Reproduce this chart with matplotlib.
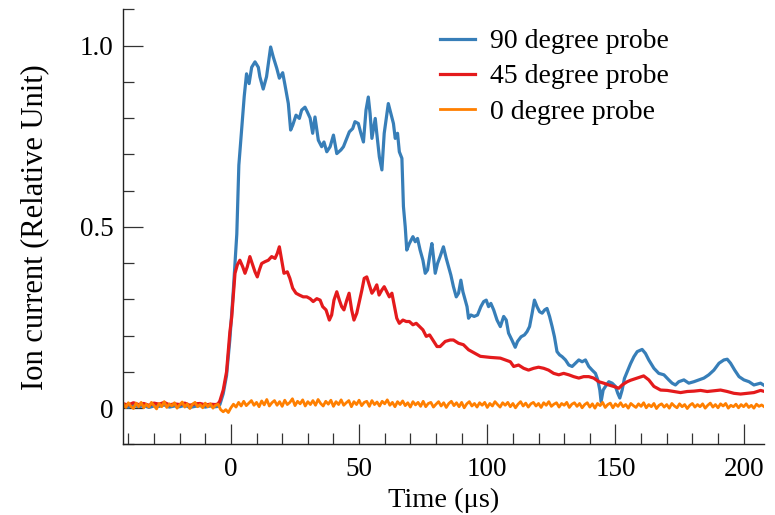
import numpy as np
import matplotlib.pyplot as plt
from matplotlib.ticker import MultipleLocator

# 90 degree probe (time in us, relative ion current)
t90 = [-42, -40, -38, -36, -34, -32, -30, -28, -26, -24, -22, -20, -18, -16, -14, -12, -10, -8, -6,
       -5, -4.3, -3, -1.7, -0.4, 0.9, 1.6, 2.3, 3.1, 4.2, 5.2, 6.1, 7.1, 8.1, 9.4, 10.7, 11.3,
       12.6, 13.9, 15.5, 16.5, 17.9, 18.9, 20.2, 21.1, 22.4, 23.3, 24.1, 25.4, 26.7, 27.6, 28.9,
       29.8, 30.9, 31.9, 32.8, 34.1, 35.4, 36.3, 37.4, 38.7, 40.0, 41.3, 42.9, 43.9, 44.9, 46.2,
       47.5, 48.4, 49.7, 50.7, 51.7, 52.7, 53.6, 54.3, 55.0, 56.3, 56.9, 57.9, 58.9, 59.8, 60.5,
       61.4, 62.4, 63.4, 64.1, 65.0, 65.7, 66.7, 67.3, 68.0, 68.6, 69.6, 71.0, 71.9, 72.8, 73.8,
       74.9, 75.8, 76.7, 77.7, 78.4, 79.0, 79.7, 80.6, 81.6, 82.9, 84.0, 84.9, 85.8, 86.8, 87.9,
       88.8, 89.7, 90.5, 91.4, 92.1, 92.7, 93.6, 94.9, 96.2, 97.5, 98.6, 99.6, 100.5, 101.4,
       102.5, 103.8, 105.1, 106.4, 107.4, 108.3, 109.6, 110.9, 111.8, 113.2, 114.5, 115.5, 116.5,
       117.5, 118.4, 119.4, 120.4, 121.4, 122.4, 123.3, 124.3, 125.3, 126.2, 127.2, 128.2, 129.2,
       130.5, 131.8, 133.1, 134.4, 135.7, 137.0, 138.3, 139.6, 140.9, 142.2, 143.1, 143.9, 144.4,
       145.2, 146.1, 147.4, 148.7, 150.0, 150.9, 151.7, 152.6, 153.5, 154.6, 155.9, 157.2, 158.5,
       160.4, 161.7, 163.0, 165.0, 166.9, 168.9, 170.8, 172.1, 173.4, 174.7, 176.7, 178.6, 180.6,
       182.5, 184.5, 186.4, 188.4, 190.4, 192.3, 193.6, 194.9, 196.5, 198.2, 200.1, 202.1, 204.0,
       206.6, 208.2]
v90 = [0.006, 0.003, 0.008, 0.004, 0.007, 0.002, 0.006, 0.005, 0.009, 0.003, 0.006, 0.004, 0.008,
       0.002, 0.005, 0.007, 0.003, 0.006, 0.004,
       0.005, 0.010, 0.040, 0.090, 0.190, 0.320, 0.400, 0.480, 0.670, 0.770, 0.860, 0.922, 0.895,
       0.940, 0.955, 0.940, 0.914, 0.880, 0.914, 0.996, 0.969, 0.937, 0.910, 0.925, 0.891, 0.840,
       0.767, 0.780, 0.808, 0.799, 0.822, 0.830, 0.817, 0.800, 0.758, 0.803, 0.739, 0.721, 0.734,
       0.707, 0.721, 0.753, 0.702, 0.712, 0.721, 0.739, 0.762, 0.771, 0.790, 0.785, 0.758, 0.734,
       0.822, 0.858, 0.812, 0.744, 0.799, 0.758, 0.693, 0.657, 0.758, 0.794, 0.840, 0.813, 0.785,
       0.744, 0.758, 0.707, 0.689, 0.556, 0.500, 0.436, 0.454, 0.473, 0.459, 0.468, 0.436, 0.408,
       0.372, 0.381, 0.427, 0.454, 0.418, 0.372, 0.399, 0.418, 0.445, 0.413, 0.390, 0.367, 0.335,
       0.307, 0.317, 0.353, 0.321, 0.298, 0.280, 0.248, 0.257, 0.253, 0.257, 0.280, 0.294, 0.298,
       0.280, 0.289, 0.271, 0.243, 0.225, 0.253, 0.243, 0.207, 0.188, 0.168, 0.184, 0.197, 0.202,
       0.211, 0.225, 0.262, 0.298, 0.280, 0.266, 0.262, 0.271, 0.275, 0.253, 0.225, 0.197, 0.156,
       0.147, 0.142, 0.133, 0.119, 0.115, 0.124, 0.133, 0.128, 0.133, 0.115, 0.105, 0.096, 0.078,
       0.050, 0.018, 0.050, 0.060, 0.073, 0.069, 0.060, 0.041, 0.028, 0.050, 0.082, 0.101, 0.123,
       0.142, 0.156, 0.162, 0.151, 0.133, 0.110, 0.096, 0.092, 0.078, 0.069, 0.064, 0.073, 0.078,
       0.069, 0.073, 0.078, 0.083, 0.092, 0.105, 0.124, 0.133, 0.135, 0.124, 0.105, 0.087, 0.078,
       0.073, 0.064, 0.069, 0.062]

# 45 degree probe
t45 = [-42, -40, -38, -36, -34, -32, -30, -28, -26, -24, -22, -20, -18, -16, -14, -12, -10, -8, -6,
       -5, -4.3, -3.0, -1.7, -0.4, 0.3, 0.9, 1.6, 2.5, 3.5, 4.6, 5.5, 6.4, 7.4, 8.5, 9.4, 10.3,
       11.1, 12.0, 13.3, 14.6, 15.9, 17.2, 18.1, 18.9, 19.8, 20.7, 22.0, 23.0, 24.1, 25.4, 26.7,
       28.2, 29.6, 30.9, 32.1, 33.5, 34.8, 35.8, 37.1, 38.4, 39.3, 40.2, 41.3, 42.3, 43.2, 44.1,
       45.2, 46.1, 47.1, 48.0, 49.1, 50.1, 51.1, 52.0, 53.0, 54.0, 55.0, 55.9, 56.9, 57.8, 58.9,
       59.8, 60.8, 61.8, 62.8, 63.7, 64.7, 65.7, 67.1, 68.4, 69.6, 71.0, 72.3, 73.6, 74.9, 76.2,
       77.5, 80.4, 81.6, 83.6, 85.5, 86.8, 88.8, 90.7, 92.7, 97.3, 101.2, 105.1, 109.0, 110.3,
       112.2, 114.2, 116.1, 118.1, 120.0, 122.0, 123.9, 125.9, 127.9, 129.8, 131.8, 133.7, 135.7,
       137.6, 139.6, 141.5, 143.5, 145.4, 147.4, 149.3, 151.3, 152.6, 154.6, 155.9, 158.5, 161.0,
       163.0, 165.0, 167.6, 170.2, 172.8, 175.4, 178.0, 180.6, 183.2, 185.8, 188.4, 191.0, 193.6,
       196.2, 198.8, 201.4, 204.0, 206.6, 208.2]
v45 = [0.012, 0.009, 0.015, 0.010, 0.013, 0.008, 0.014, 0.011, 0.016, 0.009, 0.012, 0.010, 0.014,
       0.008, 0.012, 0.013, 0.009, 0.011, 0.010,
       0.012, 0.020, 0.050, 0.100, 0.210, 0.250, 0.307, 0.372, 0.395, 0.408, 0.390, 0.372, 0.390,
       0.418, 0.395, 0.376, 0.362, 0.381, 0.399, 0.404, 0.408, 0.418, 0.413, 0.427, 0.445, 0.408,
       0.372, 0.376, 0.358, 0.331, 0.317, 0.312, 0.307, 0.307, 0.302, 0.294, 0.302, 0.298, 0.280,
       0.271, 0.243, 0.257, 0.298, 0.321, 0.298, 0.280, 0.271, 0.298, 0.317, 0.271, 0.243, 0.262,
       0.294, 0.326, 0.358, 0.362, 0.340, 0.317, 0.326, 0.340, 0.312, 0.326, 0.335, 0.321, 0.307,
       0.317, 0.285, 0.248, 0.234, 0.243, 0.239, 0.239, 0.230, 0.234, 0.225, 0.216, 0.198, 0.202,
       0.170, 0.170, 0.184, 0.188, 0.188, 0.179, 0.175, 0.161, 0.143, 0.140, 0.138, 0.128, 0.115,
       0.119, 0.110, 0.105, 0.110, 0.113, 0.110, 0.105, 0.096, 0.092, 0.096, 0.092, 0.087, 0.083,
       0.087, 0.087, 0.083, 0.073, 0.069, 0.064, 0.060, 0.055, 0.064, 0.073, 0.077, 0.083, 0.089,
       0.078, 0.060, 0.050, 0.049, 0.046, 0.043, 0.046, 0.047, 0.049, 0.046, 0.048, 0.050, 0.046,
       0.041, 0.039, 0.041, 0.043, 0.049, 0.046]

# 0 degree probe, sampled every 1 us from -42 to 208
t0 = np.arange(-42, 209)
v0 = [0.013, 0.002, 0.015, 0.005, -0.001, 0.014, 0.004, 0.016, 0.001, 0.011,
      0.003, 0.016, 0.007, -0.002, 0.013, 0.004, 0.018, 0.002, 0.012, 0.006,
      0.015, 0.000, 0.009, 0.017, 0.003, 0.012, -0.001, 0.011, 0.016, 0.004,
      0.010, 0.001, 0.014, 0.004, 0.012, 0.000, 0.008, 0.011, -0.004, -0.010,
      -0.004, -0.012, 0.001, 0.011, 0.003, 0.016, 0.006, 0.019, 0.007, 0.014,
      0.021, 0.008, 0.016, 0.004, 0.020, 0.009, 0.024, 0.006, 0.015, 0.021,
      0.008, 0.018, 0.005, 0.022, 0.010, 0.016, 0.026, 0.007, 0.019, 0.012,
      0.023, 0.006, 0.018, 0.010, 0.021, 0.008, 0.024, 0.013, 0.006, 0.019,
      0.011, 0.022, 0.005, 0.018, 0.010, 0.023, 0.008, 0.015, 0.021, 0.004,
      0.018, 0.010, 0.022, 0.007, 0.016, 0.019, 0.005, 0.021, 0.010, 0.017,
      0.006, 0.019, 0.012, 0.023, 0.008, 0.016, 0.004, 0.018, 0.010, 0.020,
      0.007, 0.015, 0.003, 0.018, 0.009, 0.016, 0.005, 0.019, 0.004, 0.013,
      0.016, 0.003, 0.011, 0.018, 0.006, 0.015, 0.002, 0.013, 0.019, 0.007,
      0.015, 0.004, 0.016, 0.001, 0.012, 0.018, 0.006, 0.013, 0.003, 0.015,
      0.008, 0.016, 0.002, 0.013, 0.006, 0.018, 0.010, 0.003, 0.015, 0.008,
      0.016, 0.004, 0.013, 0.001, 0.011, 0.018, 0.006, 0.014, 0.003, 0.012,
      0.016, 0.006, 0.013, 0.002, 0.015, 0.008, 0.018, 0.005, 0.011, 0.015,
      0.003, 0.013, 0.008, 0.016, 0.002, 0.011, 0.015, 0.005, 0.013, 0.001,
      0.010, 0.015, 0.003, 0.012, 0.000, 0.013, 0.007, 0.016, 0.002, 0.010,
      0.014, 0.001, 0.012, 0.005, 0.015, 0.004, 0.010, 0.000, 0.013, 0.007,
      0.002, 0.012, 0.005, 0.015, 0.001, 0.010, 0.004, 0.013, -0.001, 0.008,
      0.012, 0.003, 0.010, 0.000, 0.013, 0.006, 0.001, 0.012, 0.004, 0.010,
      -0.001, 0.008, 0.013, 0.003, 0.010, 0.004, 0.012, 0.000, 0.008, 0.014,
      0.003, 0.010, 0.001, 0.012, 0.006, 0.013, 0.000, 0.008, 0.004, 0.011,
      0.001, 0.010, 0.004, 0.012, 0.002, 0.008, 0.000, 0.011, 0.005, 0.009,
      0.004]

labels = ["90 degree probe", "45 degree probe", "0 degree probe"]
colors = ["#377eb8", "#e41a1c", "#ff7f00"]

plt.rcParams['font.family'] = ['Liberation Serif', 'DejaVu Serif']

fig = plt.figure(figsize=(7.75, 5.15), dpi=100)
ax = fig.add_axes([0.159, 0.137, 0.827, 0.845])

ax.plot(t90, v90, color=colors[0], lw=2.3, label=labels[0])
ax.plot(t45, v45, color=colors[1], lw=2.3, label=labels[1])
ax.plot(t0, v0, color=colors[2], lw=2.0, label=labels[2])

ax.set_xlim(-42, 208)
ax.set_ylim(-0.1, 1.1)
ax.xaxis.set_major_locator(MultipleLocator(50))
ax.xaxis.set_minor_locator(MultipleLocator(10))
ax.yaxis.set_minor_locator(MultipleLocator(0.1))
ax.set_yticks([0, 0.5, 1.0])
ax.set_yticklabels(["0", "0.5", "1.0"])

for s in ["top", "right"]:
    ax.spines[s].set_visible(False)
for s in ["left", "bottom"]:
    ax.spines[s].set_linewidth(1.0)
    ax.spines[s].set_color("#222222")

ax.tick_params(which="major", direction="in", length=14.5, width=0.9,
               color="#333333", labelsize=19.5, pad=7)
ax.tick_params(axis="x", which="major", pad=9)
ax.tick_params(which="minor", direction="in", length=8, width=0.9,
               color="#333333")

ax.set_xlabel("Time (μs)", fontsize=20.5, labelpad=4)
ax.set_ylabel("Ion current (Relative Unit)", fontsize=22, labelpad=22)

ax.legend(loc="upper left", bbox_to_anchor=(0.495, 0.955), frameon=False,
          fontsize=20, handlelength=1.25, handletextpad=0.55, labelspacing=0.35,
          borderpad=0, borderaxespad=0)

fig.savefig("out.png", dpi=100)
